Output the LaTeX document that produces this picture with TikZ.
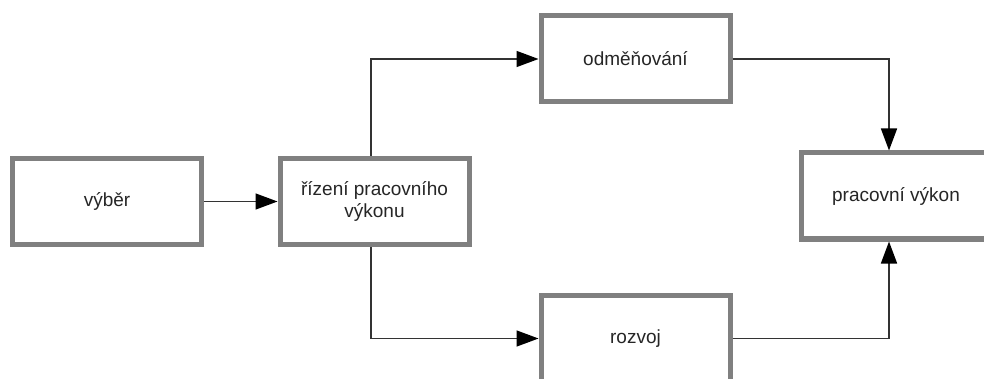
\documentclass[tikz,border=0pt]{standalone}
\usepackage{fontspec}
\setmainfont{Liberation Sans}
\usetikzlibrary{arrows.meta}
\begin{document}
\begin{tikzpicture}[x=1pt,y=-1pt,
  blok/.style={draw=black!50, line width=5pt, fill=white,
    minimum width=189pt, minimum height=86pt, inner sep=0pt,
    align=center, font=\fontsize{19}{22}\selectfont, text=black!85},
  spoj/.style={draw=black!80, line width=1.5pt,
    -{Triangle[length=22pt,width=16pt,fill=black,color=black]}}]
\useasboundingbox (0,0) rectangle (984,379);
\fill[white] (0,0) rectangle (984,379);
\begin{scope}
\clip (0,0) rectangle (984,379);
\node[blok] (vyber) at (107,201.5) {výběr};
\node[blok] (rizeni) at (374.5,201.5) {řízení pracovního\\výkonu};
\node[blok] (odmen) at (635.5,59) {odměňování};
\node[blok] (vykon) at (896,196) {pracovní výkon};
\node[blok] (rozvoj) at (635.5,338.5) {rozvoj};
\end{scope}
\coordinate (rx) at (371,0);
\coordinate (vx) at (889,0);
\draw[spoj] (vyber.east) -- (rizeni.west);
\draw[spoj] (rizeni.north -| rx) |- (odmen.west);
\draw[spoj] (rizeni.south -| rx) |- (rozvoj.west);
\draw[spoj] (odmen.east) -| (vykon.north -| vx);
\draw[spoj] (rozvoj.east) -| (vykon.south -| vx);
\end{tikzpicture}
\end{document}
